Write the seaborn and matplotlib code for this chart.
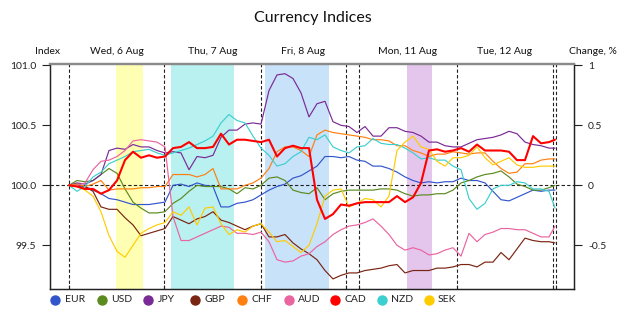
import matplotlib
matplotlib.use('Agg')
import numpy as np
import pandas as pd
import matplotlib.pyplot as plt
import matplotlib.transforms as mtransforms
from matplotlib.lines import Line2D
import seaborn as sns

# trading hours since Wed 00:00 (weekend cut out), one reading every 2 h
hours = list(range(0, 121, 2)) + [121.5]

currencies = ['EUR', 'USD', 'JPY', 'GBP', 'CHF', 'AUD', 'CAD', 'NZD', 'SEK']
colors = ['#3355cc', '#5b8a1e', '#7a2a96', '#7a2412', '#ff7f11',
          '#ea64a0', '#ff0000', '#3ccfcf', '#ffcc00']

# change vs. start, % (index = 100 + change)
eur = [0, -0.01, -0.01, -0.04, -0.07, -0.11, -0.12, -0.14, -0.16, -0.16, -0.16,
       -0.15, -0.14, 0.0, 0.01, -0.01, 0.02, 0.0, -0.01, -0.18, -0.18,
       -0.15, -0.14, -0.12, -0.08, -0.04, -0.01, 0.01, 0.06, 0.08, 0.12, 0.16,
       0.24, 0.24, 0.23, 0.24, 0.21, 0.2, 0.16, 0.16, 0.14, 0.11,
       0.07, 0.04, 0.02, 0.03, 0.02, 0.03, 0.03, 0.06, 0.04, 0.04, 0.02,
       -0.05, -0.12, -0.13, -0.1, -0.07, -0.04, -0.05, -0.04, -0.04]
usd = [0, 0.04, 0.03, 0.04, 0.09, 0.14, 0.1, -0.03, -0.14, -0.19, -0.23,
       -0.23, -0.22, -0.15, -0.11, -0.05, 0.0, -0.01, -0.01, -0.01, -0.03,
       -0.07, -0.02, -0.03, 0.0, 0.06, 0.07, 0.04, -0.04, -0.06, -0.07, -0.02,
       -0.12, -0.07, -0.05, -0.04, -0.04, -0.04, -0.04, -0.03, -0.03, -0.04,
       -0.07, -0.09, -0.08, -0.08, -0.07, -0.07, -0.04, 0.02, 0.04, 0.07, 0.09,
       0.1, 0.12, 0.07, 0.01, -0.01, -0.04, -0.04, -0.02, 0.0]
jpy = [0, 0.02, 0.01, 0.04, 0.09, 0.29, 0.31, 0.3, 0.34, 0.32, 0.32,
       0.29, 0.27, 0.28, 0.27, 0.13, 0.24, 0.23, 0.25, 0.4, 0.46,
       0.46, 0.51, 0.52, 0.51, 0.79, 0.92, 0.93, 0.89, 0.77, 0.57, 0.68,
       0.7, 0.53, 0.5, 0.49, 0.44, 0.49, 0.41, 0.41, 0.48, 0.48,
       0.45, 0.44, 0.41, 0.36, 0.36, 0.33, 0.32, 0.32, 0.35, 0.38, 0.39,
       0.4, 0.42, 0.45, 0.43, 0.36, 0.34, 0.33, 0.31, 0.31]
gbp = [0, 0.01, -0.01, -0.05, -0.18, -0.2, -0.2, -0.27, -0.33, -0.42, -0.4,
       -0.38, -0.36, -0.26, -0.29, -0.32, -0.28, -0.26, -0.22, -0.29, -0.31,
       -0.34, -0.37, -0.34, -0.32, -0.43, -0.43, -0.41, -0.48, -0.53, -0.57, -0.62,
       -0.71, -0.78, -0.75, -0.73, -0.73, -0.71, -0.7, -0.69, -0.67, -0.66,
       -0.73, -0.71, -0.71, -0.71, -0.69, -0.69, -0.68, -0.66, -0.66, -0.68, -0.64,
       -0.64, -0.56, -0.62, -0.53, -0.44, -0.46, -0.47, -0.47, -0.48]
chf = [0, 0.01, -0.01, 0.01, 0.04, -0.04, -0.03, -0.03, -0.03, -0.02, -0.02,
       -0.01, -0.01, 0.09, 0.09, 0.09, 0.07, 0.09, 0.14, -0.03, -0.03,
       -0.03, 0.0, 0.02, 0.06, 0.14, 0.28, 0.32, 0.32, 0.29, 0.24, 0.42,
       0.46, 0.44, 0.43, 0.42, 0.41, 0.4, 0.38, 0.38, 0.37, 0.33,
       0.33, 0.29, 0.27, 0.24, 0.26, 0.26, 0.28, 0.27, 0.26, 0.27, 0.27,
       0.2, 0.14, 0.1, 0.11, 0.18, 0.18, 0.21, 0.22, 0.22]
aud = [0, 0.0, 0.02, 0.13, 0.2, 0.21, 0.24, 0.29, 0.37, 0.38, 0.37,
       0.36, 0.32, -0.26, -0.46, -0.46, -0.43, -0.4, -0.37, -0.34, -0.35,
       -0.4, -0.4, -0.41, -0.39, -0.47, -0.62, -0.64, -0.63, -0.59, -0.57, -0.51,
       -0.47, -0.41, -0.37, -0.34, -0.33, -0.31, -0.28, -0.34, -0.41, -0.5,
       -0.54, -0.52, -0.54, -0.58, -0.57, -0.54, -0.52, -0.59, -0.4, -0.47, -0.41,
       -0.39, -0.36, -0.36, -0.37, -0.37, -0.4, -0.43, -0.43, -0.34]
cad = [0, -0.01, -0.03, -0.03, -0.07, -0.04, 0.04, 0.21, 0.28, 0.23, 0.25,
       0.23, 0.24, 0.31, 0.32, 0.36, 0.31, 0.31, 0.32, 0.43, 0.34,
       0.38, 0.38, 0.37, 0.36, 0.38, 0.24, 0.31, 0.33, 0.31, 0.31, -0.12,
       -0.28, -0.24, -0.16, -0.17, -0.15, -0.14, -0.14, -0.14, -0.14, -0.09,
       -0.14, -0.1, 0.02, 0.29, 0.3, 0.28, 0.29, 0.31, 0.28, 0.34, 0.29,
       0.29, 0.29, 0.28, 0.21, 0.21, 0.41, 0.35, 0.36, 0.38]
nzd = [0, -0.05, -0.01, 0.07, 0.11, 0.18, 0.21, 0.24, 0.28, 0.29, 0.3,
       0.27, 0.25, 0.27, 0.29, 0.31, 0.34, 0.37, 0.41, 0.52, 0.59,
       0.54, 0.52, 0.41, 0.31, 0.25, 0.16, 0.18, 0.24, 0.28, 0.4, 0.38,
       0.42, 0.32, 0.29, 0.27, 0.32, 0.33, 0.39, 0.35, 0.34, 0.34,
       0.31, 0.27, 0.22, 0.23, 0.21, 0.21, 0.16, 0.13, -0.11, -0.2, -0.15,
       -0.03, 0.0, 0.0, 0.03, 0.02, -0.03, -0.03, -0.05, -0.19]
sek = [0, -0.01, -0.04, -0.09, -0.22, -0.42, -0.55, -0.6, -0.5, -0.4, -0.36,
       -0.33, -0.31, -0.22, -0.25, -0.18, -0.33, -0.19, -0.18, -0.32, -0.41,
       -0.37, -0.39, -0.34, -0.32, -0.39, -0.47, -0.46, -0.51, -0.56, -0.5, -0.32,
       -0.09, -0.04, -0.03, -0.18, -0.15, -0.11, -0.12, -0.18, -0.09, 0.29,
       0.36, 0.41, 0.32, 0.3, 0.2, 0.16, 0.23, 0.23, 0.25, 0.32, 0.23,
       0.17, 0.2, 0.23, 0.17, 0.15, 0.15, 0.16, 0.16, 0.16]

day_names = ['Wed, 6 Aug', 'Thu, 7 Aug', 'Fri, 8 Aug', 'Mon, 11 Aug', 'Tue, 12 Aug']
day_mid = [12, 36, 58.6, 84.75, 109]
day_edges = [0, 23.75, 48, 69.25, 72.5, 97, 121, 121.75]
sessions = [(11.75, 18.5), (25.5, 41.25), (49, 65), (84.5, 90.75)]
session_colors = ['#ffffb3', '#b9f0f0', '#c8e2fa', '#e4c6ec']

series = [eur, usd, jpy, gbp, chf, aud, cad, nzd, sek]
df = pd.DataFrame({'hours': hours})
for name, vals in zip(currencies, series):
    df[name] = 100 + np.array(vals)
long = df.melt(id_vars='hours', var_name='currency', value_name='index')

sns.set_theme(style='white')
plt.rcParams['font.family'] = ['Lato', 'DejaVu Sans']

fig = plt.figure(figsize=(6.25, 3.15), dpi=100)
ax = fig.add_axes([0.08, 0.081, 0.8384, 0.717])

for (a, b), c in zip(sessions, session_colors):
    ax.axvspan(a, b, color=c, lw=0, zorder=0)
for x in day_edges:
    ax.axvline(x, color='#202020', ls=(0, (3, 2)), lw=0.8, zorder=1)
ax.axhline(100, color='#202020', ls=(0, (3, 2)), lw=0.8, zorder=1)

palette = dict(zip(currencies, colors))
others = long[long['currency'] != 'CAD']
sns.lineplot(data=others, x='hours', y='index', hue='currency', palette=palette,
             hue_order=[c for c in currencies if c != 'CAD'], estimator=None,
             lw=0.85, legend=False, ax=ax, zorder=3)
sns.lineplot(data=long[long['currency'] == 'CAD'], x='hours', y='index',
             color=palette['CAD'], estimator=None, lw=1.5, legend=False, ax=ax, zorder=4)

ylo, yhi = 99.132, 101.014
ax.set_xlim(-4.75, 126.25)
ax.set_ylim(ylo, yhi)
ax.set_xlabel('')
ax.set_ylabel('')
ax.set_yticks([99.5, 100.0, 100.5, 101.0])
ax.set_yticklabels(['99.5', '100.0', '100.5', '101.0'])
ax.set_xticks(day_edges)
ax.set_xticklabels([])
ax.tick_params(axis='y', direction='out', length=6, width=0.8, pad=4,
               labelsize=7.5, colors='#222222', left=True)
ax.tick_params(axis='x', direction='in', length=3, width=0.8, bottom=True)

ax2 = ax.twinx()
ax2.set_ylim(ylo - 100, yhi - 100)
ax2.set_yticks([-0.5, 0, 0.5, 1])
ax2.set_yticklabels(['-0.5', '0', '0.5', '1'])
ax2.tick_params(axis='y', direction='out', length=6, width=0.8, pad=4,
                labelsize=7.5, colors='#222222', right=True)
ax2.grid(False)

for a in (ax, ax2):
    for s in a.spines.values():
        s.set_color('#222222')
        s.set_linewidth(0.9)
    a.spines['top'].set_color('#8a8a8a')
    a.spines['top'].set_linewidth(1.6)

trans = mtransforms.blended_transform_factory(ax.transData, fig.transFigure)
for x, name in zip(day_mid, day_names):
    ax.text(x, 1 - 52 / 315, name, transform=trans, ha='center', va='center',
            fontsize=7.5, color='#111111')
fig.text(48 / 625, 1 - 52 / 315, 'Index', ha='center', va='center', fontsize=7.5, color='#111111')
fig.text(593 / 625, 1 - 52 / 315, 'Change, %', ha='center', va='center', fontsize=7.5, color='#111111')
fig.text(0.5, 1 - 18 / 315, 'Currency Indices', ha='center', va='center', fontsize=11.5, color='#111111')

# legend: evenly spaced dots with labels below the plot
leg_y = 1 - 300 / 315
for i, (name, c) in enumerate(zip(currencies, colors)):
    x0 = (55 + 46.7 * i) / 625
    fig.add_artist(Line2D([x0], [leg_y], transform=fig.transFigure, ls='none',
                          marker='o', markersize=6.5, color=c))
    fig.text(x0 + 9.5 / 625, leg_y, name, ha='left', va='center', fontsize=7.5, color='#222222')

fig.savefig('out.png', dpi=100)
